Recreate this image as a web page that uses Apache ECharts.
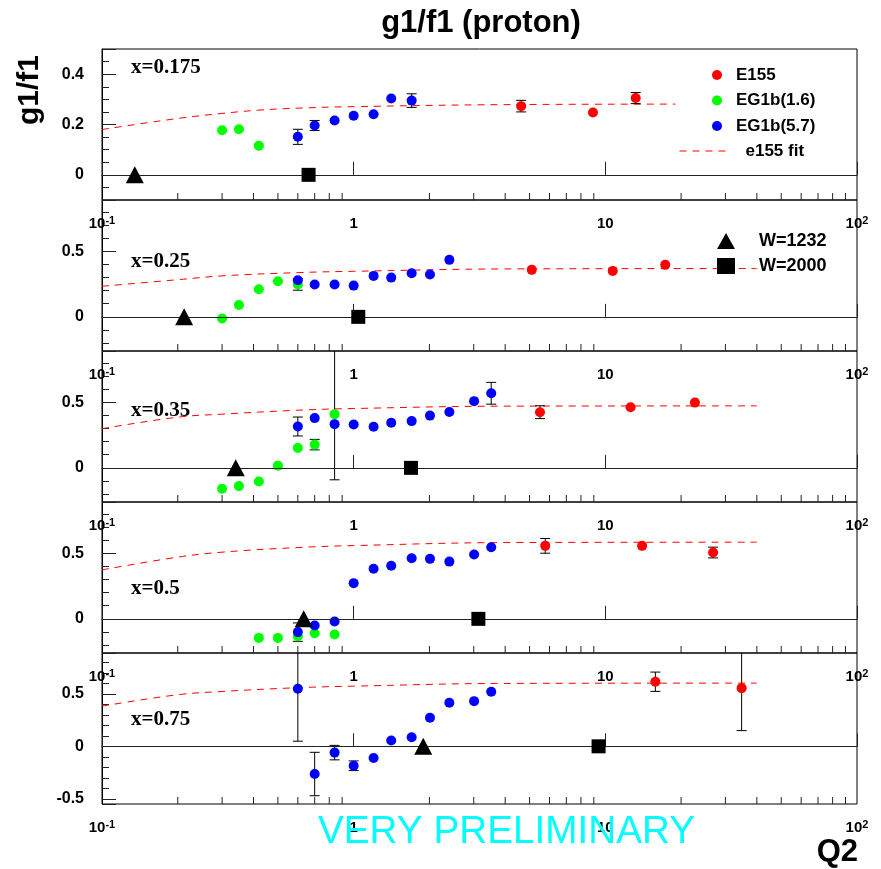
<!DOCTYPE html>
<html>
<head>
<meta charset="utf-8">
<title>g1/f1 (proton)</title>
<script src="https://cdn.jsdelivr.net/npm/echarts@6/dist/echarts.min.js"></script>
<style>
  html, body { margin: 0; padding: 0; background: #fff; }
  #chart { width: 881px; height: 869px; }
</style>
</head>
<body>
<div id="chart"></div>
<script>
// one panel per Bjorken x bin
const panelLabels = ['x=0.175', 'x=0.25', 'x=0.35', 'x=0.5', 'x=0.75'];
const yMin = [-0.1, -0.26, -0.26, -0.26, -0.55];
const yMax = [0.5, 0.89, 0.89, 0.89, 0.89];
const yStep = [0.2, 0.5, 0.5, 0.5, 0.5];
const yMinorSplit = [4, 5, 5, 5, 5];
const xMinorTicks = [0.2, 0.3, 0.4, 0.5, 0.6, 0.7, 0.8, 0.9, 2, 3, 4, 5, 6, 7, 8, 9, 20, 30, 40, 50, 60, 70, 80, 90];

// E155
const e155Q2 = [[4.63, 8.93, 13.2], [5.1, 10.7, 17.3], [5.5, 12.6, 22.7], [5.77, 14.0, 26.8], [15.8, 34.8]];
const e155Val = [[0.273, 0.248, 0.305], [0.358, 0.350, 0.396], [0.424, 0.462, 0.497], [0.556, 0.556, 0.505], [0.616, 0.555]];
const e155Err = [[0.023, 0, 0.022], [0, 0, 0], [0.049, 0, 0], [0.056, 0, 0.041], [0.092, 0.405]];

// EG1b, 1.6 GeV
const eg16Q2 = [
    [0.30, 0.35, 0.42],
    [0.30, 0.35, 0.42, 0.50, 0.60],
    [0.30, 0.35, 0.42, 0.50, 0.60, 0.70, 0.84],
    [0.42, 0.50, 0.60, 0.70, 0.84],
    []
];
const eg16Val = [
    [0.177, 0.181, 0.116],
    [-0.013, 0.091, 0.210, 0.271, 0.247],
    [-0.159, -0.139, -0.104, 0.017, 0.152, 0.177, 0.409],
    [-0.145, -0.145, -0.132, -0.109, -0.119],
    []
];
const eg16Err = [[0, 0, 0], [0, 0, 0, 0, 0.044], [0, 0, 0, 0, 0, 0.04, 0.5], [0, 0, 0, 0, 0], []];

// EG1b, 5.7 GeV
const eg57Q2 = [
    [0.60, 0.70, 0.84, 1.0, 1.2, 1.41, 1.70],
    [0.60, 0.70, 0.84, 1.0, 1.2, 1.41, 1.70, 2.01, 2.40],
    [0.60, 0.70, 0.84, 1.0, 1.2, 1.41, 1.70, 2.01, 2.40, 3.01, 3.52],
    [0.60, 0.70, 0.84, 1.0, 1.2, 1.41, 1.70, 2.01, 2.40, 3.01, 3.52],
    [0.60, 0.70, 0.84, 1.0, 1.2, 1.41, 1.70, 2.01, 2.40, 3.01, 3.52]
];
const eg57Val = [
    [0.151, 0.196, 0.216, 0.235, 0.241, 0.303, 0.295],
    [0.279, 0.246, 0.246, 0.238, 0.312, 0.299, 0.332, 0.322, 0.434],
    [0.315, 0.379, 0.333, 0.330, 0.313, 0.343, 0.356, 0.398, 0.426, 0.508, 0.568],
    [-0.101, -0.051, -0.020, 0.272, 0.381, 0.404, 0.462, 0.457, 0.436, 0.490, 0.546],
    [0.549, -0.264, -0.060, -0.185, -0.111, 0.055, 0.086, 0.272, 0.415, 0.431, 0.521]
];
const eg57Err = [
    [0.03, 0.02, 0, 0, 0, 0, 0.027],
    [0, 0, 0, 0, 0, 0, 0, 0, 0],
    [0.072, 0, 0, 0, 0, 0, 0, 0, 0, 0, 0.083],
    [0.07, 0, 0, 0, 0, 0, 0, 0, 0, 0, 0],
    [0.5, 0.207, 0.069, 0.046, 0, 0, 0, 0, 0, 0, 0]
];

// e155 fit
const fitQ2 = [
    [0.1, 0.2, 0.3, 0.42, 0.6, 1, 4, 19],
    [0.1, 0.2, 0.3, 0.6, 1, 4, 40],
    [0.1, 0.2, 0.3, 0.6, 1, 4, 40],
    [0.1, 0.2, 0.3, 0.6, 1, 4, 40],
    [0.1, 0.2, 0.3, 0.6, 1, 4, 40]
];
const fitVal = [
    [0.180, 0.224, 0.244, 0.257, 0.265, 0.271, 0.279, 0.281],
    [0.233, 0.283, 0.312, 0.337, 0.347, 0.365, 0.368],
    [0.298, 0.386, 0.409, 0.439, 0.452, 0.470, 0.472],
    [0.373, 0.470, 0.508, 0.543, 0.558, 0.581, 0.584],
    [0.383, 0.492, 0.523, 0.559, 0.574, 0.600, 0.603]
];

// resonance thresholds
const w1232Q2 = [0.135, 0.212, 0.34, 0.633, 1.89];
const w1232Val = [0, 0, 0, 0, 0];
const w2000Q2 = [0.662, 1.043, 1.69, 3.13, 9.4];
const w2000Val = [0, 0, 0, 0, 0];

const FONT = 'Liberation Sans';
const gridTop = [49, 200, 351, 502, 653];
const panelHeight = 151;

function zip(xs, ys) {
    return xs.map((x, i) => [x, ys[i]]);
}

function withErrors(xs, ys, es) {
    return xs.map((x, i) => [x, ys[i], es[i]]).filter(d => d[2] > 0);
}

function xLabel(v) {
    const e = Math.round(Math.log10(v));
    if (e === -1) return '{b|10}{s|-1}';
    if (e === 2) return '{b|10}{s|2}';
    return '{b|' + Math.round(v) + '}';
}

function renderErrorBar(params, api) {
    const cs = params.coordSys;
    const x = api.value(0), y = api.value(1), e = api.value(2);
    const hi = api.coord([x, y + e]);
    const lo = api.coord([x, y - e]);
    const top = Math.max(hi[1], cs.y);
    const bottom = Math.min(lo[1], cs.y + cs.height);
    const style = { stroke: '#000', lineWidth: 1 };
    const children = [{ type: 'line', shape: { x1: hi[0], y1: top, x2: hi[0], y2: bottom }, style: style }];
    if (hi[1] >= cs.y) children.push({ type: 'line', shape: { x1: hi[0] - 5, y1: top, x2: hi[0] + 5, y2: top }, style: style });
    if (lo[1] <= cs.y + cs.height) children.push({ type: 'line', shape: { x1: lo[0] - 5, y1: bottom, x2: lo[0] + 5, y2: bottom }, style: style });
    return { type: 'group', children: children };
}

function renderMinorTick(params, api) {
    const cs = params.coordSys;
    const p = api.coord([api.value(0), api.value(1)]);
    const bottom = cs.y + cs.height;
    return { type: 'line', shape: { x1: p[0], y1: bottom, x2: p[0], y2: bottom - 7 }, style: { stroke: '#222', lineWidth: 1 } };
}

const grids = [], xAxes = [], yAxes = [], series = [], graphics = [];

for (let p = 0; p < 5; p++) {
    grids.push({ left: 102, right: 24, top: gridTop[p], height: panelHeight, show: true, borderColor: '#000', borderWidth: 1, backgroundColor: 'transparent' });

    xAxes.push({
        type: 'log', logBase: 10, gridIndex: p, min: 0.1, max: 100,
        axisLine: { show: true, lineStyle: { color: '#000', width: 1 } },
        axisTick: { show: true, inside: true, length: 13, lineStyle: { color: '#222' } },
        minorTick: { show: false },
        splitLine: { show: false },
        axisLabel: {
            margin: 15, color: '#000', formatter: xLabel,
            rich: {
                b: { fontFamily: FONT, fontWeight: 'bold', fontSize: 15, lineHeight: 18, color: '#000' },
                s: { fontFamily: FONT, fontWeight: 'bold', fontSize: 11, lineHeight: 18, verticalAlign: 'top', color: '#000' }
            }
        }
    });

    const step = yStep[p];
    yAxes.push({
        type: 'value', gridIndex: p, min: yMin[p], max: yMax[p],
        minInterval: step, maxInterval: step, splitNumber: 3,
        axisLine: { show: true, lineStyle: { color: '#000' } },
        axisTick: { show: true, inside: true, length: 14, lineStyle: { color: '#222' } },
        minorTick: { show: true, splitNumber: yMinorSplit[p], length: 7, lineStyle: { color: '#222' } },
        splitLine: { show: false },
        axisLabel: {
            margin: 18, color: '#000', fontFamily: FONT, fontWeight: 'bold', fontSize: 16,
            formatter: v => Math.abs(v / step - Math.round(v / step)) < 1e-6 ? String(Math.round(v * 100) / 100) : ''
        }
    });

    series.push({
        name: 'minor ticks', type: 'custom', xAxisIndex: p, yAxisIndex: p, silent: true, z: 1,
        renderItem: renderMinorTick,
        data: xMinorTicks.map(v => [v, yMin[p]])
    });
    series.push({
        name: 'e155 fit', type: 'line', xAxisIndex: p, yAxisIndex: p, smooth: 0.4, symbol: 'none', z: 2,
        lineStyle: { color: '#ff0000', width: 1, type: [7, 6] }, itemStyle: { color: '#ff0000' },
        data: zip(fitQ2[p], fitVal[p]),
        markLine: {
            silent: true, symbol: 'none', label: { show: false },
            lineStyle: { color: '#222', width: 1, type: 'solid' },
            data: [{ yAxis: 0 }]
        }
    });
    series.push({
        name: 'errors', type: 'custom', xAxisIndex: p, yAxisIndex: p, silent: true, z: 3,
        renderItem: renderErrorBar,
        data: withErrors(e155Q2[p], e155Val[p], e155Err[p])
            .concat(withErrors(eg16Q2[p], eg16Val[p], eg16Err[p]))
            .concat(withErrors(eg57Q2[p], eg57Val[p], eg57Err[p]))
    });
    series.push({
        name: 'E155', type: 'scatter', xAxisIndex: p, yAxisIndex: p, symbolSize: 10, z: 4,
        itemStyle: { color: '#ff0000', opacity: 1 }, data: zip(e155Q2[p], e155Val[p])
    });
    series.push({
        name: 'EG1b(1.6)', type: 'scatter', xAxisIndex: p, yAxisIndex: p, symbolSize: 10, z: 4,
        itemStyle: { color: '#00ff00', opacity: 1 }, data: zip(eg16Q2[p], eg16Val[p])
    });
    series.push({
        name: 'EG1b(5.7)', type: 'scatter', xAxisIndex: p, yAxisIndex: p, symbolSize: 10, z: 4,
        itemStyle: { color: '#0000ff', opacity: 1 }, data: zip(eg57Q2[p], eg57Val[p])
    });
    series.push({
        name: 'W=1232', type: 'scatter', xAxisIndex: p, yAxisIndex: p, symbol: 'triangle', symbolSize: [18, 17], z: 5,
        itemStyle: { color: '#000', opacity: 1 }, data: [[w1232Q2[p], w1232Val[p]]]
    });
    series.push({
        name: 'W=2000', type: 'scatter', xAxisIndex: p, yAxisIndex: p, symbol: 'rect', symbolSize: 14, z: 5,
        itemStyle: { color: '#000', opacity: 1 }, data: [[w2000Q2[p], w2000Val[p]]]
    });
}

const panelLabelY = [68, 262, 411, 589, 720];
panelLabels.forEach((t, p) => {
    graphics.push({
        type: 'text', left: 131, top: panelLabelY[p] - 11, z: 10,
        style: { text: t, fill: '#000', font: 'bold 21px "Liberation Serif"' }
    });
});

graphics.push({
    type: 'text', x: 481, y: 23, z: 10,
    style: { text: 'g1/f1 (proton)', fill: '#000', font: 'bold 31px "Liberation Sans"', align: 'center', verticalAlign: 'middle' }
});
graphics.push({
    type: 'text', x: 30, y: 90, rotation: Math.PI / 2, z: 10,
    style: { text: 'g1/f1', fill: '#000', font: 'bold 30px "Liberation Sans"', align: 'center', verticalAlign: 'middle' }
});
graphics.push({
    type: 'text', x: 858, y: 852, z: 10,
    style: { text: 'Q2', fill: '#000', font: 'bold 31px "Liberation Sans"', align: 'right', verticalAlign: 'middle' }
});
graphics.push({
    type: 'text', x: 318, y: 832, z: 10,
    style: { text: 'VERY PRELIMINARY', fill: '#00ffff', font: '38.7px "Liberation Sans"', align: 'left', verticalAlign: 'middle' }
});

const legendText = { color: '#000', fontFamily: FONT, fontWeight: 'bold', fontSize: 17, lineHeight: 20 };

const option = {
    animation: false,
    backgroundColor: '#fff',
    grid: grids,
    xAxis: xAxes,
    yAxis: yAxes,
    legend: [
        {
            data: ['E155', 'EG1b(1.6)', 'EG1b(5.7)'], orient: 'vertical', left: 712, top: 65, padding: 0,
            itemWidth: 28, itemHeight: 10, itemGap: 5.5, selectedMode: false, textStyle: legendText
        },
        {
            data: ['e155 fit'], orient: 'vertical', left: 679, top: 141, padding: 0,
            itemWidth: 46, itemHeight: 10, selectedMode: false,
            itemStyle: { opacity: 0 },
            lineStyle: { color: '#ff0000', width: 1, type: [7, 6], opacity: 1 },
            textStyle: Object.assign({}, legendText, { padding: [0, 0, 0, 15] })
        },
        {
            data: ['W=1232', 'W=2000'], orient: 'vertical', left: 717, top: 231, padding: 0,
            itemWidth: 18, itemHeight: 16, itemGap: 5, selectedMode: false,
            textStyle: Object.assign({}, legendText, { fontSize: 18, padding: [0, 0, 0, 19] })
        }
    ],
    graphic: graphics,
    series: series
};

const myChart = echarts.init(document.getElementById('chart'));
myChart.setOption(option);
</script>
</body>
</html>
